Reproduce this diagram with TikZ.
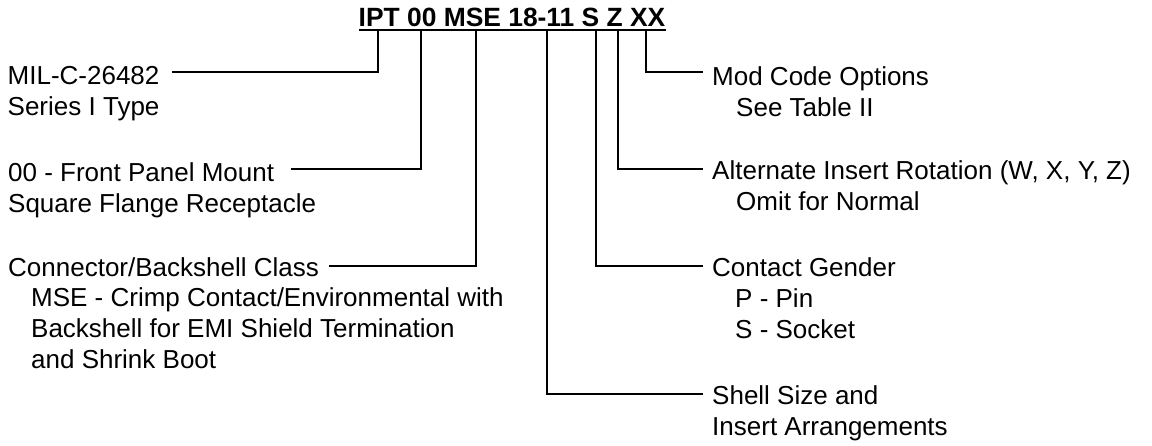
\documentclass[tikz,border=0pt]{standalone}
\usepackage{fontspec}
\setmainfont{Liberation Sans}
\begin{document}
\begin{tikzpicture}[x=1pt,y=-1pt,
  lbl/.style={anchor=base west,inner sep=0pt,font=\fontsize{26}{31}\selectfont},
  ttl/.style={anchor=base west,inner sep=0pt,font=\bfseries\fontsize{26.4}{31}\selectfont},
  conn/.style={line width=2pt}]
\useasboundingbox (0,0) rectangle (1152,445);
% title
\node[ttl] (title) at (358.5,26) {IPT 00 MSE 18-11 S Z XX};
\draw[conn] ([yshift=-3.5pt]title.base west) -- ([yshift=-3.5pt]title.base east);
% tap points on the underline
\coordinate (t1) at (378,29.5);
\coordinate (t2) at (421,29.5);
\coordinate (t3) at (476,29.5);
\coordinate (t4) at (547,29.5);
\coordinate (t5) at (596,29.5);
\coordinate (t6) at (618,29.5);
\coordinate (t7) at (646,29.5);
% left labels
\node[lbl] (mil)  at (7.5,84)  {MIL-C-26482};
\node[lbl] (mil2) at (7.5,115) {Series I Type};
\node[lbl] (fp)   at (8,181)   {00 - Front Panel Mount};
\node[lbl] (fp2)  at (8,212)   {Square Flange Receptacle};
\node[lbl] (cb)   at (8,276)   {Connector/Backshell Class};
\node[lbl] (cb2)  at (31,306)  {MSE - Crimp Contact/Environmental with};
\node[lbl] (cb3)  at (31,337)  {Backshell for EMI Shield Termination};
\node[lbl] (cb4)  at (31,368)  {and Shrink Boot};
% right labels
\node[lbl] (mod)  at (712,85)  {Mod Code Options};
\node[lbl] (mod2) at (736,116) {See Table II};
\node[lbl] (alt)  at (712,179) {Alternate Insert Rotation (W, X, Y, Z)};
\node[lbl] (alt2) at (736,210) {Omit for Normal};
\node[lbl] (cg)   at (712,276) {Contact Gender};
\node[lbl] (cg2)  at (735,307) {P - Pin};
\node[lbl] (cg3)  at (735,338) {S - Socket};
\node[lbl] (ss)   at (712,404) {Shell Size and};
\node[lbl] (ss2)  at (712,435) {Insert Arrangements};
% connectors
\draw[conn] ([xshift=12pt,yshift=12pt]mil.base east) -| (t1);
\draw[conn] ([xshift=17pt,yshift=12.5pt]fp.base east) -| (t2);
\draw[conn] ([xshift=10pt,yshift=10pt]cb.base east) -| (t3);
\draw[conn] (t4) |- ([xshift=-9pt,yshift=10.5pt]ss.base west);
\draw[conn] (t5) |- ([xshift=-9pt,yshift=10pt]cg.base west);
\draw[conn] (t6) |- ([xshift=-9pt,yshift=10.5pt]alt.base west);
\draw[conn] (t7) |- ([xshift=-9pt,yshift=13pt]mod.base west);
\end{tikzpicture}
\end{document}
